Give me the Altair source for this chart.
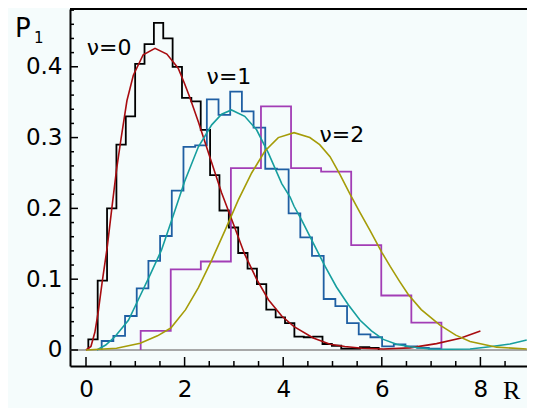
import altair as alt
import pandas as pd

# ---------------- data ----------------
# histograms: first bin edge, bin width, bar heights
h0_start, h0_width = 0.047, 0.19
h0_vals = [0.015, 0.098, 0.20, 0.29, 0.33, 0.404, 0.432, 0.462, 0.44, 0.40,
           0.356, 0.351, 0.311, 0.247, 0.197, 0.173, 0.137, 0.115, 0.093, 0.057,
           0.046, 0.038, 0.019, 0.018, 0.019, 0.0085, 0.006, 0.002, 0.002, 0.004,
           0.003]
h1_start, h1_width = 0.318, 0.237
h1_vals = [0.0127, 0.020, 0.048, 0.087, 0.126, 0.161, 0.225, 0.287, 0.289, 0.354,
           0.332, 0.365, 0.337, 0.314, 0.256, 0.255, 0.193, 0.159, 0.133, 0.072,
           0.062, 0.038, 0.022, 0.018, 0.005, 0.008, 0.005, 0.003, 0.002]
h2_start, h2_width = 1.109, 0.61
h2_vals = [0.027, 0.114, 0.125, 0.257, 0.344, 0.257, 0.252, 0.148, 0.077, 0.0386]

# fitted curves
c0_x = [0.0, 0.1, 0.18, 0.25, 0.33, 0.43, 0.52, 0.62, 0.71, 0.83, 0.96, 1.16, 1.40,
        1.64, 1.87, 2.0, 2.11, 2.28, 2.51, 2.75, 2.99, 3.22, 3.46, 3.70, 3.97, 4.22,
        4.61, 4.95, 5.25, 5.6, 6.03, 6.57, 7.11, 7.59, 8.0]
c0_y = [0.0, 0.005, 0.025, 0.055, 0.097, 0.145, 0.198, 0.255, 0.298, 0.352, 0.388,
        0.417, 0.426, 0.418, 0.398, 0.376, 0.356, 0.322, 0.273, 0.222, 0.178, 0.135,
        0.100, 0.071, 0.048, 0.033, 0.017, 0.008, 0.005, 0.0025, 0.0015, 0.003,
        0.009, 0.0165, 0.027]
c1_x = [0.22, 0.4, 0.59, 0.86, 1.06, 1.30, 1.53, 1.77, 2.0, 2.28, 2.55, 2.75, 2.95,
        3.22, 3.46, 3.70, 3.97, 4.14, 4.22, 4.37, 4.61, 4.85, 5.08, 5.32, 5.56, 5.79,
        6.03, 6.30, 6.57, 6.98, 7.38, 7.79, 8.19, 8.6, 8.94]
c1_y = [0.0, 0.007, 0.019, 0.042, 0.071, 0.106, 0.141, 0.19, 0.238, 0.287, 0.318,
        0.333, 0.339, 0.330, 0.311, 0.278, 0.235, 0.216, 0.203, 0.184, 0.151, 0.118,
        0.089, 0.064, 0.042, 0.027, 0.015, 0.008, 0.0045, 0.0015, 0.001, 0.0015,
        0.0045, 0.0085, 0.014]
c2_x = [0.0, 0.62, 1.10, 1.45, 1.72, 2.02, 2.28, 2.55, 2.82, 3.09, 3.36, 3.63, 3.90,
        4.22, 4.54, 4.74, 4.95, 5.15, 5.35, 5.55, 5.76, 6.0, 6.17, 6.36, 6.54, 6.8,
        7.18, 7.5, 7.79, 8.33, 8.94]
c2_y = [0.0, 0.0024, 0.0095, 0.02, 0.031, 0.057, 0.088, 0.127, 0.169, 0.212, 0.250,
        0.281, 0.300, 0.307, 0.300, 0.29, 0.273, 0.248, 0.221, 0.195, 0.169, 0.138,
        0.118, 0.097, 0.078, 0.057, 0.035, 0.021, 0.012, 0.004, 0.0014]

x_major = [0, 2, 4, 6, 8]
x_minor = [0.5, 1, 1.5, 2.5, 3, 3.5, 4.5, 5, 5.5, 6.5, 7, 7.5, 8.5]
y_major = [0, 0.1, 0.2, 0.3, 0.4]
y_minor = [0.02, 0.04, 0.06, 0.08, 0.12, 0.14, 0.16, 0.18, 0.22, 0.24, 0.26, 0.28,
           0.32, 0.34, 0.36, 0.38, 0.42, 0.44, 0.46, 0.48]

labels = ["ν=0", "ν=1", "ν=2"]
label_x = [0.467, 2.90, 5.19]
label_y = [0.4266, 0.3856, 0.3037]

# ---------------- build tables ----------------
def hist_df(name, start, width, vals):
    edges = [start + width * i for i in range(len(vals) + 1)]
    pts = [(edges[0], 0.0)] + [(edges[i], v) for i, v in enumerate(vals)]
    pts += [(edges[-1], vals[-1]), (edges[-1], 0.0)]
    return pd.DataFrame({"x": [p[0] for p in pts], "y": [p[1] for p in pts],
                         "i": list(range(len(pts))), "s": name})

hist = pd.concat([hist_df("h0", h0_start, h0_width, h0_vals),
                  hist_df("h1", h1_start, h1_width, h1_vals),
                  hist_df("h2", h2_start, h2_width, h2_vals)])
curves = pd.concat([
    pd.DataFrame({"x": c0_x, "y": c0_y, "s": "c0"}),
    pd.DataFrame({"x": c1_x, "y": c1_y, "s": "c1"}),
    pd.DataFrame({"x": c2_x, "y": c2_y, "s": "c2"}),
])
curves["i"] = range(len(curves))

W, H = 457, 357
xs = alt.Scale(domain=[-0.3245, 8.945], nice=False, zero=False)
ys = alt.Scale(domain=[-0.0226, 0.4816], nice=False, zero=False)
xa = alt.Axis(values=x_major, ticks=False, grid=False, labelPadding=12,
              domainColor="black", domainWidth=2, labelFont="DejaVu Sans",
              labelFontSize=23, labelColor="black", labelFlush=False)
ya = alt.Axis(values=y_major, format=".1~f", ticks=False, grid=False, labelPadding=8,
              domainColor="black", domainWidth=2, labelFont="DejaVu Sans",
              labelFontSize=23, labelColor="black", labelFlush=False)

def X(f="x"):
    return alt.X(f"{f}:Q", scale=xs, axis=xa, title=None)

def Y(f="y"):
    return alt.Y(f"{f}:Q", scale=ys, axis=ya, title=None)

hcol = alt.Scale(domain=["h0", "h1", "h2"], range=["#000000", "#1f5fa3", "#a23db5"])
ccol = alt.Scale(domain=["c0", "c1", "c2"], range=["#a80c10", "#169e9e", "#a59c08"])

zero_line = alt.Chart(pd.DataFrame({"y": [0.0]})).mark_rule(
    color="#8c8c8c", strokeWidth=1.6).encode(y=Y(), x=alt.value(0), x2=alt.value(W))
top_line = alt.Chart(pd.DataFrame({"y": [0.0]})).mark_rule(
    color="black", strokeWidth=2).encode(y=alt.value(0), x=alt.value(0), x2=alt.value(W))

hist_layer = alt.Chart(hist).mark_line(interpolate="step-after", strokeWidth=1.8).encode(
    x=X(), y=Y(), order="i:Q", detail="s:N",
    color=alt.Color("s:N", scale=hcol, legend=None))
curve_layer = alt.Chart(curves).mark_line(strokeWidth=1.6).encode(
    x=X(), y=Y(), order="i:Q", detail="s:N",
    color=alt.Color("s:N", scale=ccol, legend=None))

ytmaj = alt.Chart(pd.DataFrame({"v": y_major})).mark_rule(color="black", strokeWidth=1.5).encode(
    y=Y("v"), x=alt.value(0), x2=alt.value(8))
ytmin = alt.Chart(pd.DataFrame({"v": y_minor})).mark_rule(color="black", strokeWidth=1.5).encode(
    y=Y("v"), x=alt.value(0), x2=alt.value(4))
xtmaj = alt.Chart(pd.DataFrame({"v": x_major})).mark_rule(color="black", strokeWidth=1.5).encode(
    x=X("v"), y=alt.value(H), y2=alt.value(H - 9))
xtmin = alt.Chart(pd.DataFrame({"v": x_minor})).mark_rule(color="black", strokeWidth=1.5).encode(
    x=X("v"), y=alt.value(H), y2=alt.value(H - 5))

nu_text = alt.Chart(pd.DataFrame({"t": labels, "x": label_x, "y": label_y})).mark_text(
    font="DejaVu Sans", fontSize=22, color="black", align="center", baseline="middle").encode(
    x=X(), y=Y(), text="t:N")

p_text = alt.Chart(pd.DataFrame({"t": ["P"]})).mark_text(
    font="DejaVu Sans", fontSize=26, color="black", align="left", baseline="alphabetic").encode(
    x=alt.value(-55), y=alt.value(28), text="t:N")
sub_text = alt.Chart(pd.DataFrame({"t": ["1"]})).mark_text(
    font="DejaVu Sans", fontSize=15, color="black", align="left", baseline="alphabetic").encode(
    x=alt.value(-36), y=alt.value(34), text="t:N")
r_text = alt.Chart(pd.DataFrame({"t": ["R"]})).mark_text(
    font="Liberation Serif", fontSize=26, color="black", align="left", baseline="alphabetic").encode(
    x=alt.value(433), y=alt.value(390), text="t:N")

chart = alt.layer(
    zero_line, hist_layer, curve_layer, ytmaj, ytmin, xtmaj, xtmin, top_line,
    nu_text, p_text, sub_text, r_text
).resolve_scale(color="independent").properties(
    width=W, height=H,
    padding={"left": 62, "top": 1, "right": 0, "bottom": 42},
    autosize=alt.AutoSizeParams(type="none"),
    background="#f5fcfc",
).configure_view(stroke=None)

chart.save("out.html", embed_options={"renderer": "svg", "actions": False})
